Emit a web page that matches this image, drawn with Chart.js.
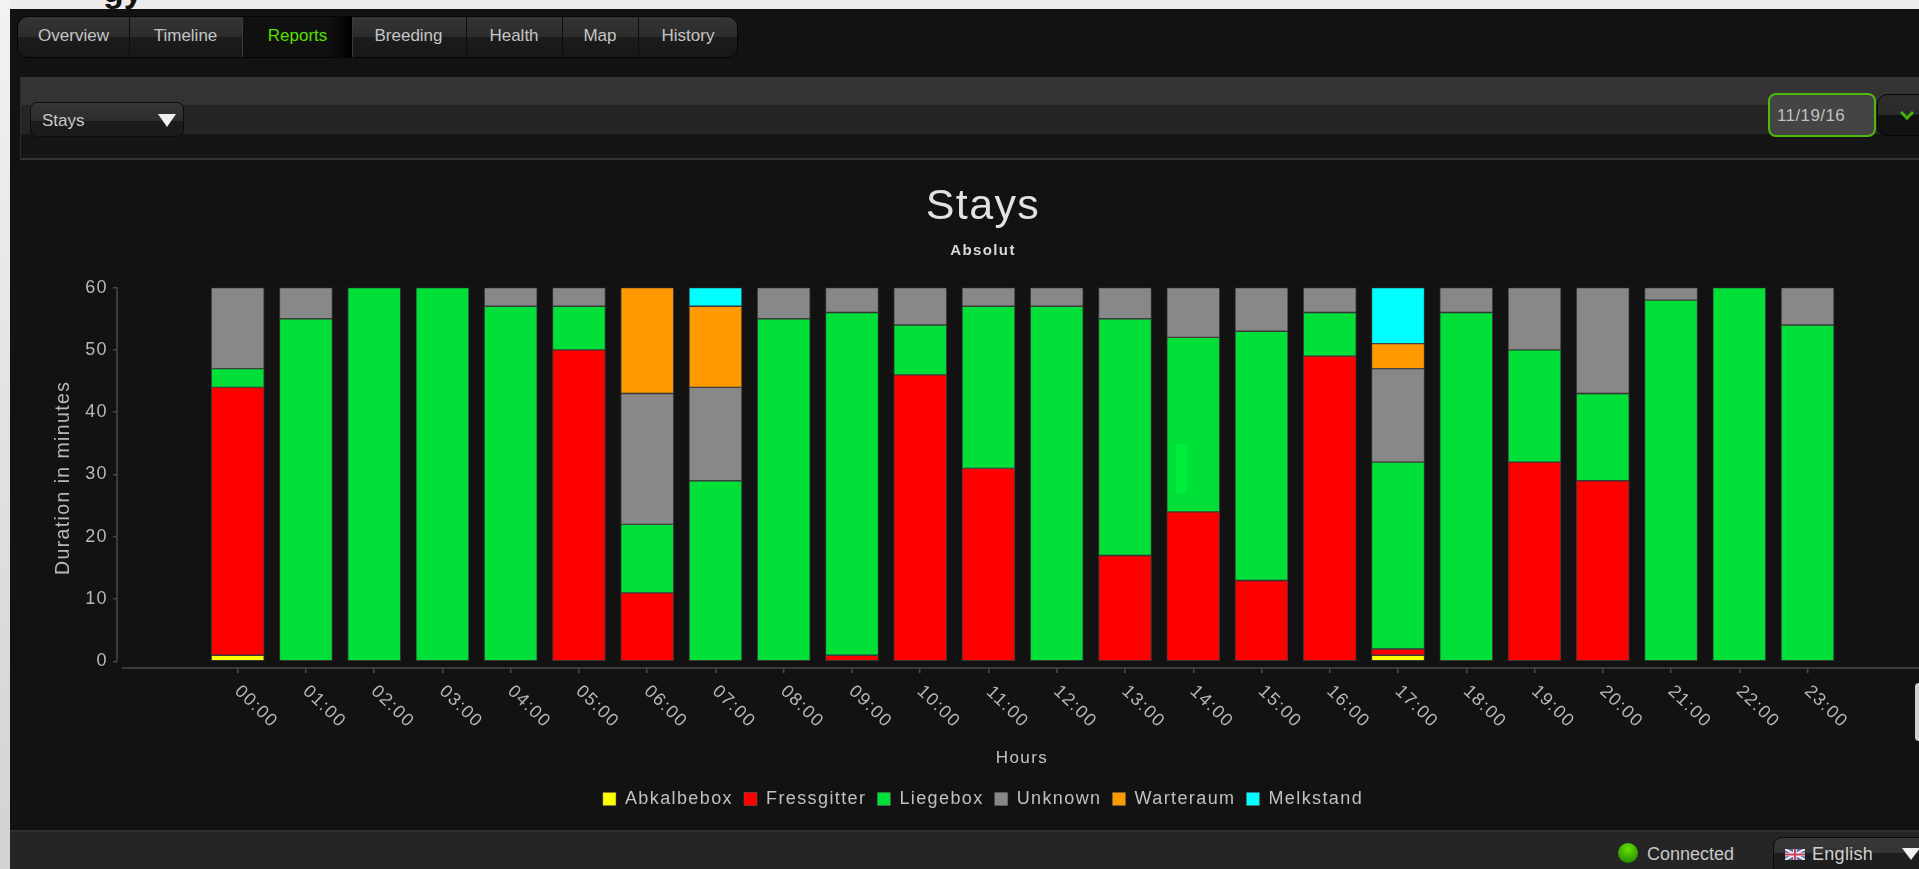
<!DOCTYPE html>
<html><head><meta charset="utf-8">
<style>
html,body{margin:0;padding:0;width:1919px;height:869px;overflow:hidden;background:#ececec;font-family:"Liberation Sans",Arial,sans-serif}
.abs{position:absolute;box-sizing:border-box}
#leftbar{left:0;top:0;width:10px;height:869px;background:linear-gradient(#f2f2f2,#d2d2d2)}
#app{left:10px;top:9px;width:1909px;height:860px;background:#121212}
#gy{left:103px;top:-29px;font:bold 34px "Liberation Sans";color:#111}
#tabs{left:17px;top:16px;width:721px;height:42px;border:1px solid #050505;border-radius:11px;overflow:hidden;background:linear-gradient(#353535 0,#2b2b2b 50%,#1c1c1c 50%,#171717 100%)}
.tab{position:absolute;top:0;height:40px;border-right:1px solid #0c0c0c;color:#c4c4c4;font-size:17px;line-height:38px;text-align:center}
.tab.on{background:linear-gradient(90deg,#101010 0,#101010 80%,#000 100%);color:#55e000;border:1px solid #3a3a3a;top:-1px;height:42px}
#panel{left:20px;top:77px;width:1899px;height:83px;border-left:1px solid #2b2b2b;border-bottom:2px solid #333;background:linear-gradient(#333 0,#333 35%,#252525 35%,#252525 70%,#151515 70%,#151515 100%)}
#sel{left:30px;top:102px;width:154px;height:35px;border-radius:7px;border:1px solid #0c0c0c;background:linear-gradient(#363636 0,#2c2c2c 55%,#1b1b1b 55%,#1b1b1b 100%);color:#c8c8c8;font-size:17px;line-height:35px;padding-left:11px}
.tri{position:absolute;width:0;height:0;border-left:9px solid transparent;border-right:9px solid transparent;border-top:13px solid #f0f0f0}
#date{left:1768px;top:93px;width:108px;height:44px;border:2px solid #4fb80f;border-radius:8px;background:#444;color:#c0c0c0;font-size:17px;line-height:42px;padding-left:7px;letter-spacing:.4px}
#dbtn{left:1877px;top:94px;width:60px;height:42px;border-radius:10px;border:1px solid #050505;background:linear-gradient(#2e2e2e 0,#2a2a2a 50%,#121212 50%,#121212 100%)}
#chev{left:1902px;top:108px;width:10px;height:10px;border-right:3px solid #46b010;border-bottom:3px solid #46b010;transform:rotate(45deg)}
#wrap{left:0;top:160px;width:1966px;height:662px}
#status{left:10px;top:830px;width:1909px;height:39px;background:#252525;border-top:2px solid #303030}
#ball{left:1618px;top:843px;width:20px;height:20px;border-radius:50%;background:radial-gradient(circle at 50% 30%,#66e000,#2f9a00 70%,#1f7000)}
#conn{left:1647px;top:843px;color:#c8c8c8;font-size:18px;line-height:22px}
#lang{left:1773px;top:837px;width:170px;height:40px;border:1px solid #0a0a0a;border-radius:9px;background:linear-gradient(#383838 0,#333 40%,#1e1e1e 40%)}
#flag{left:1785px;top:849px;width:20px;height:11px}
#eng{left:1812px;top:842px;color:#d0d0d0;font-size:18px;line-height:24px;letter-spacing:.3px}
#handle{left:1915px;top:683px;width:4px;height:58px;background:#cfcfcf;border-radius:4px 0 0 4px}
#ghost{left:1176px;top:444px;width:11px;height:49px;background:#00ee3a}
</style></head><body>
<div class="abs" id="leftbar"></div>
<div class="abs" id="gy">gy</div>
<div class="abs" id="app"></div>
<div class="abs" id="tabs">
<div class="tab" style="left:0;width:111px">Overview</div>
<div class="tab" style="left:111px;width:113px">Timeline</div>
<div class="tab on" style="left:224px;width:109px">Reports</div>
<div class="tab" style="left:333px;width:115px">Breeding</div>
<div class="tab" style="left:448px;width:96px">Health</div>
<div class="tab" style="left:544px;width:76px">Map</div>
<div class="tab" style="left:620px;width:100px;border-right:0">History</div>
</div>
<div class="abs" id="panel"></div>
<div class="abs" id="sel">Stays<div class="tri" style="left:127px;top:11px"></div></div>
<div class="abs" id="date">11/19/16</div>
<div class="abs" id="dbtn"></div><div class="abs" id="chev"></div>
<div class="abs" id="wrap"><canvas id="c"></canvas></div>
<div class="abs" id="ghost"></div>
<div class="abs" id="status"></div>
<div class="abs" id="ball"></div>
<div class="abs" id="conn">Connected</div>
<div class="abs" id="lang"></div>
<svg class="abs" id="flag" viewBox="0 0 20 11"><rect width="20" height="11" fill="#5a6aa8"/><path d="M0 0L20 11M20 0L0 11" stroke="#eee" stroke-width="2"/><path d="M10 0V11M0 5.5H20" stroke="#eee" stroke-width="3.5"/><path d="M10 0V11M0 5.5H20" stroke="#d04060" stroke-width="2"/></svg>
<div class="abs" id="eng">English</div>
<div class="tri" style="left:1902px;top:848px;border-top-width:12px"></div>
<div class="abs" id="handle"></div>
<script src="https://cdn.jsdelivr.net/npm/chart.js@4"></script>
<script>
const hours = ["00:00","01:00","02:00","03:00","04:00","05:00","06:00","07:00","08:00","09:00","10:00","11:00","12:00","13:00","14:00","15:00","16:00","17:00","18:00","19:00","20:00","21:00","22:00","23:00"];
const yTicks = [0,10,20,30,40,50,60];
const abkalbebox  = [1,0,0,0,0,0,0,0,0,0,0,0,0,0,0,0,0,1,0,0,0,0,0,0];
const fressgitter = [43,0,0,0,0,50,11,0,0,1,46,31,0,17,24,13,49,1,0,32,29,0,0,0];
const liegebox    = [3,55,60,60,57,7,11,29,55,55,8,26,57,38,28,40,7,30,56,18,14,58,60,54];
const unknown     = [13,5,0,0,3,3,21,15,5,4,6,3,3,5,8,7,4,15,4,10,17,2,0,6];
const warteraum   = [0,0,0,0,0,0,17,13,0,0,0,0,0,0,0,0,0,4,0,0,0,0,0,0];
const melkstand   = [0,0,0,0,0,0,0,3,0,0,0,0,0,0,0,0,0,9,0,0,0,0,0,0];
const seriesNames = ["Abkalbebox","Fressgitter","Liegebox","Unknown","Warteraum","Melkstand"];
const seriesValues = [abkalbebox,fressgitter,liegebox,unknown,warteraum,melkstand];
const seriesColors = ["#ffff00","#ff0000","#00e038","#888888","#ff9900","#00ffff"];

const AXIS = "#4a4a4a", TXT = "#b8b8b8", FF = '"Liberation Sans"';
const spacing = {id:"spacing",
  beforeLayout(c){c.ctx.letterSpacing="1.4px"},
  beforeDraw(c){c.ctx.letterSpacing="1.4px"},
  afterDraw(c){
    const x=c.scales.x,y=c.scales.y,a=c.chartArea,g=c.ctx;
    g.save();g.strokeStyle=AXIS;g.lineWidth=1.5;
    g.beginPath();g.moveTo(a.left,y.getPixelForValue(60));g.lineTo(a.left,y.getPixelForValue(0));g.stroke();
    g.beginPath();g.moveTo(a.left+5,a.bottom);g.lineTo(x.right,a.bottom);g.stroke();
    g.restore();
  }};
new Chart(document.getElementById("c"),{
  type:"bar",
  data:{datasets:seriesNames.map((n,k)=>({
    label:n,
    data:seriesValues[k].map((v,i)=>({x:i,y:v||null})),
    backgroundColor:seriesColors[k],
    borderColor:"rgba(110,110,110,.4)",
    borderWidth:1,
    barThickness:53,
    borderSkipped:false
  }))},
  plugins:[spacing],
  options:{
    responsive:true,maintainAspectRatio:false,animation:false,
    layout:{padding:{left:39,right:39,top:0,bottom:4}},
    plugins:{
      tooltip:{enabled:false},
      title:{display:true,text:"Stays",color:"#e2e2e2",font:{family:FF,size:43,weight:"normal"},padding:{top:21,bottom:9}},
      subtitle:{display:true,text:"Absolut",color:"#d8d8d8",font:{family:FF,size:15,weight:"bold"},padding:{top:0,bottom:28}},
      legend:{position:"bottom",labels:{color:"#c0c0c0",font:{family:FF,size:18},boxWidth:13,boxHeight:13,padding:11}}
    },
    scales:{
      x:{type:"linear",stacked:true,offset:false,min:-1.768,max:24.75,
        afterBuildTicks(s){s.ticks=hours.map((_,i)=>({value:i}))},
        afterFit(s){s.height=111},
        border:{display:false},
        grid:{offset:false,drawOnChartArea:false,color:AXIS,tickLength:5,lineWidth:1.5},
        ticks:{autoSkip:false,minRotation:-44,maxRotation:-44,labelOffset:37,padding:44,color:TXT,font:{family:FF,size:18},
          callback(v){return hours[v]}},
        title:{display:true,text:"Hours",color:"#c4c4c4",font:{family:FF,size:17},padding:{top:0,bottom:10.5}}
      },
      y:{stacked:true,min:-1.05,max:60,
        afterBuildTicks(s){s.ticks=yTicks.map(v=>({value:v}))},
        afterFit(s){s.width=78},
        border:{display:false},
        grid:{offset:false,drawOnChartArea:false,color:AXIS,tickLength:4,lineWidth:1.5},
        ticks:{padding:5,color:TXT,font:{family:FF,size:18}},
        title:{display:true,text:"Duration in minutes",color:"#b8b8b8",font:{family:FF,size:19.5},padding:{top:13,bottom:0}}
      }
    }
  }
});
</script>
</body></html>
